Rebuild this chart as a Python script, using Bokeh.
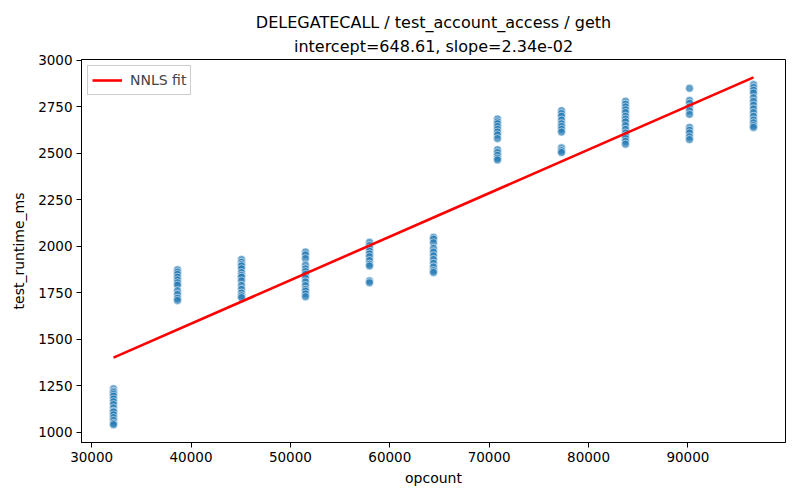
from bokeh.plotting import figure
from bokeh.models import Range1d, FixedTicker, Legend, LegendItem, ColumnDataSource, Title
from bokeh.embed import file_html
from bokeh.resources import INLINE

TITLE_LINE1 = "DELEGATECALL / test_account_access / geth"
TITLE_LINE2 = "intercept=648.61, slope=2.34e-02"
X_LABEL = "opcount"
Y_LABEL = "test_runtime_ms"
LEGEND_LABEL = "NNLS fit"

INTERCEPT = 648.61
SLOPE = 2.34e-02

opcounts = [32200, 38640, 45080, 51520, 57960, 64400, 70840, 77280, 83720, 90160, 96600]

rt_32200 = [1235, 1222, 1215, 1205, 1195, 1180, 1165, 1150, 1132, 1115, 1110, 1095, 1080, 1065, 1050, 1042]
rt_38640 = [1875, 1862, 1850, 1835, 1820, 1805, 1792, 1762, 1742, 1722, 1710]
rt_45080 = [1930, 1915, 1903, 1895, 1880, 1860, 1845, 1835, 1815, 1790, 1770, 1750, 1735, 1725]
rt_51520 = [1970, 1955, 1935, 1900, 1880, 1865, 1850, 1830, 1810, 1790, 1770, 1760, 1745, 1730]
rt_57960 = [2022, 2005, 1990, 1975, 1960, 1945, 1925, 1905, 1895, 1815, 1805]
rt_64400 = [2050, 2040, 2020, 1990, 1970, 1950, 1930, 1910, 1890, 1870, 1860]
rt_70840 = [2685, 2670, 2660, 2645, 2630, 2615, 2600, 2580, 2520, 2505, 2490, 2475, 2465]
rt_77280 = [2730, 2715, 2700, 2680, 2660, 2645, 2630, 2615, 2530, 2515, 2505]
rt_83720 = [2780, 2765, 2750, 2735, 2720, 2700, 2685, 2670, 2650, 2630, 2610, 2595, 2580, 2565, 2550]
rt_90160 = [2850, 2785, 2770, 2750, 2730, 2710, 2640, 2625, 2610, 2590, 2575]
rt_96600 = [2870, 2855, 2840, 2825, 2800, 2780, 2760, 2740, 2720, 2700, 2680, 2665, 2650, 2640]

runtimes = [rt_32200, rt_38640, rt_45080, rt_51520, rt_57960, rt_64400,
            rt_70840, rt_77280, rt_83720, rt_90160, rt_96600]

x_ticks = [30000, 40000, 50000, 60000, 70000, 80000, 90000]
y_ticks = [1000, 1250, 1500, 1750, 2000, 2250, 2500, 2750, 3000]

xs, ys = [], []
for oc, vals in zip(opcounts, runtimes):
    xs.extend([oc] * len(vals))
    ys.extend(vals)

fit_x = [min(opcounts), max(opcounts)]
fit_y = [INTERCEPT + SLOPE * v for v in fit_x]

FONT = "DejaVu Sans"

p = figure(width=800, height=500, output_backend="svg", toolbar_location=None,
           x_range=Range1d(28980, 99820), y_range=Range1d(946, 3005),
           min_border_left=81, min_border_right=15, min_border_top=59, min_border_bottom=58)
p.title.text = TITLE_LINE1
p.title.align = "center"
p.title.text_font = FONT
p.title.text_font_size = "16px"
p.title.text_font_style = "normal"
p.title.text_color = "black"
p.title.standoff = 0
t2 = Title(text=TITLE_LINE2, align="center", text_font=FONT, text_font_size="16px",
           text_font_style="normal", text_color="black", standoff=7)
p.add_layout(t2, "above")

src = ColumnDataSource(dict(x=xs, y=ys))
p.scatter("x", "y", source=src, size=8, fill_color="#1f77b4", fill_alpha=0.7,
          line_color="white", line_alpha=0.7, line_width=0.8)
fit = p.line(fit_x, fit_y, line_color="red", line_width=2.6)

legend = Legend(items=[LegendItem(label=LEGEND_LABEL, renderers=[fit])], location="top_left")
legend.label_text_font = FONT
legend.label_text_font_size = "14px"
legend.border_line_color = "#cccccc"
legend.border_line_alpha = 1
legend.background_fill_alpha = 0.8
legend.padding = 4
legend.spacing = 2
legend.margin = 6
legend.glyph_width = 30
legend.label_standoff = 8
p.add_layout(legend)

p.xgrid.visible = False
p.ygrid.visible = False
p.outline_line_color = "black"
p.outline_line_alpha = 1
p.outline_line_width = 1

p.xaxis.ticker = FixedTicker(ticks=x_ticks)
p.yaxis.ticker = FixedTicker(ticks=y_ticks)
p.xaxis.axis_label = X_LABEL
p.yaxis.axis_label = Y_LABEL
for ax in (p.xaxis, p.yaxis):
    ax.axis_label_text_font = FONT
    ax.axis_label_text_font_size = "14px"
    ax.axis_label_text_font_style = "normal"
    ax.axis_label_text_color = "black"
    ax.major_label_text_font = FONT
    ax.major_label_text_font_size = "13.5px"
    ax.major_label_text_color = "black"
    ax.minor_tick_line_color = None
    ax.major_tick_in = 0
    ax.major_tick_out = 5
    ax.major_tick_line_color = "black"
    ax.axis_line_color = "black"
p.yaxis.major_label_orientation = "horizontal"
p.xaxis.axis_label_standoff = 5
p.yaxis.axis_label_standoff = 8
p.yaxis.major_label_standoff = 4
p.xaxis.major_label_standoff = 4

open("out.html", "w").write(file_html(p, INLINE))
